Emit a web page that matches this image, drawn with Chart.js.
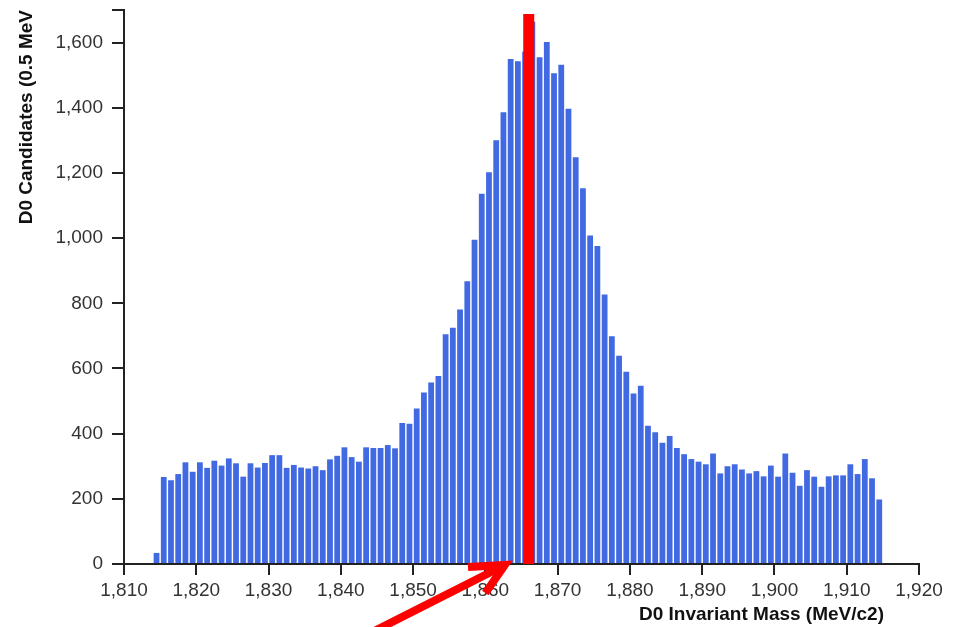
<!DOCTYPE html>
<html>
<head>
<meta charset="utf-8">
<script src="https://cdn.jsdelivr.net/npm/chart.js@4/dist/chart.umd.min.js"></script>
<style>
  html, body { margin: 0; padding: 0; background: #fff; }
  #wrap { width: 956px; height: 627px; position: relative; }
</style>
</head>
<body>
<div id="wrap"><canvas id="massChart"></canvas></div>
<script>
// histogram: 1 MeV bins, first bin starts at 1814
const binStart = 1814;
const counts = [
  34, 267, 257, 276, 312, 283, 312, 295, 317, 302,
  324, 309, 268, 309, 296, 310, 334, 334, 295, 304,
  296, 293, 300, 288, 321, 332, 358, 328, 314, 358,
  356, 356, 365, 355, 433, 430, 477, 526, 557, 577,
  705, 725, 781, 868, 995, 1136, 1202, 1300, 1386, 1550,
  1543, 1572, 1664, 1555, 1602, 1506, 1532, 1397, 1248, 1153,
  1008, 976, 827, 699, 639, 590, 523, 547, 424, 404,
  372, 393, 356, 337, 322, 314, 306, 339, 278, 300,
  306, 290, 278, 285, 269, 302, 268, 339, 280, 240,
  288, 268, 237, 269, 272, 272, 306, 276, 322, 263,
  198
];

const xTicks = [1810, 1820, 1830, 1840, 1850, 1860, 1870, 1880, 1890, 1900, 1910, 1920];
const yTicks = [0, 200, 400, 600, 800, 1000, 1200, 1400, 1600];
const yMax = 1700;

// red marker line and arrow (data units)
const markerLine = [{ x: 1866, y: 0 }, { x: 1866, y: 1688 }];
const arrowShaft = [{ x: 1842.2, y: -233 }, { x: 1862.7, y: -3 }];
const arrowHead = [{ x: 1857.6, y: -9 }, { x: 1862.7, y: -3 }, { x: 1860.0, y: -89 }];

const histData = counts.map((c, i) => ({ x: binStart + i + 0.5, y: c }));

const FONT = '"Liberation Sans", Arial, Helvetica, sans-serif';

// axis titles, d3 style (anchored at the ends)
const axisTitles = {
  id: 'axisTitles',
  afterDraw(chart) {
    const ctx = chart.ctx;
    ctx.save();
    ctx.fillStyle = '#111';
    ctx.font = 'bold 19px ' + FONT;
    ctx.textBaseline = 'alphabetic';
    ctx.textAlign = 'right';
    ctx.fillText('D0 Invariant Mass (MeV/c2)', 884, 620);
    ctx.translate(32, chart.chartArea.top);
    ctx.rotate(-Math.PI / 2);
    ctx.fillText('D0 Candidates (0.5 MeV', 0, 0);
    ctx.restore();
  }
};

new Chart(document.getElementById('massChart'), {
  type: 'bar',
  data: {
    datasets: [
      {
        type: 'line',
        data: markerLine,
        borderColor: '#ff0000',
        borderWidth: 11,
        borderCapStyle: 'butt',
        pointRadius: 0,
        clip: false,
        order: 1
      },
      {
        type: 'line',
        data: arrowShaft,
        borderColor: '#ff0000',
        borderWidth: 8,
        borderCapStyle: 'butt',
        pointRadius: 0,
        clip: false,
        order: 1
      },
      {
        type: 'line',
        data: arrowHead,
        borderColor: '#ff0000',
        borderWidth: 8,
        borderCapStyle: 'butt',
        borderJoinStyle: 'miter',
        pointRadius: 0,
        clip: false,
        order: 1
      },
      {
        type: 'bar',
        data: histData,
        backgroundColor: '#4169e1',
        categoryPercentage: 1,
        barPercentage: 0.8,
        order: 2
      }
    ]
  },
  options: {
    responsive: true,
    maintainAspectRatio: false,
    animation: false,
    layout: { padding: { top: 10, right: 37, left: 0, bottom: 0 } },
    plugins: { legend: { display: false }, tooltip: { enabled: false } },
    scales: {
      x: {
        type: 'linear',
        min: 1810,
        max: 1920,
        offset: false,
        afterFit: (scale) => { scale.height = 63; },
        afterBuildTicks: (scale) => { scale.ticks = xTicks.map(v => ({ value: v })); },
        grid: { display: true, drawOnChartArea: false, drawTicks: true, tickLength: 11, offset: false, color: '#222', lineWidth: 2 },
        border: { display: true, color: '#222', width: 2 },
        ticks: {
          autoSkip: false,
          maxRotation: 0,
          padding: 4,
          color: '#333',
          font: { family: FONT, size: 19 },
          callback: (v) => v.toLocaleString('en-US')
        }
      },
      y: {
        min: 0,
        max: yMax,
        afterFit: (scale) => { scale.width = 124; scale.paddingTop = 0; scale.paddingBottom = 0; },
        afterBuildTicks: (scale) => { scale.ticks = yTicks.concat([yMax]).map(v => ({ value: v })); },
        grid: { display: true, drawOnChartArea: false, drawTicks: true, tickLength: 12, color: '#222', lineWidth: 2 },
        border: { display: true, color: '#222', width: 2 },
        ticks: {
          padding: 9,
          color: '#333',
          font: { family: FONT, size: 19 },
          callback: (v) => v === yMax ? '' : v.toLocaleString('en-US')
        }
      }
    }
  },
  plugins: [axisTitles]
});
</script>
</body>
</html>
